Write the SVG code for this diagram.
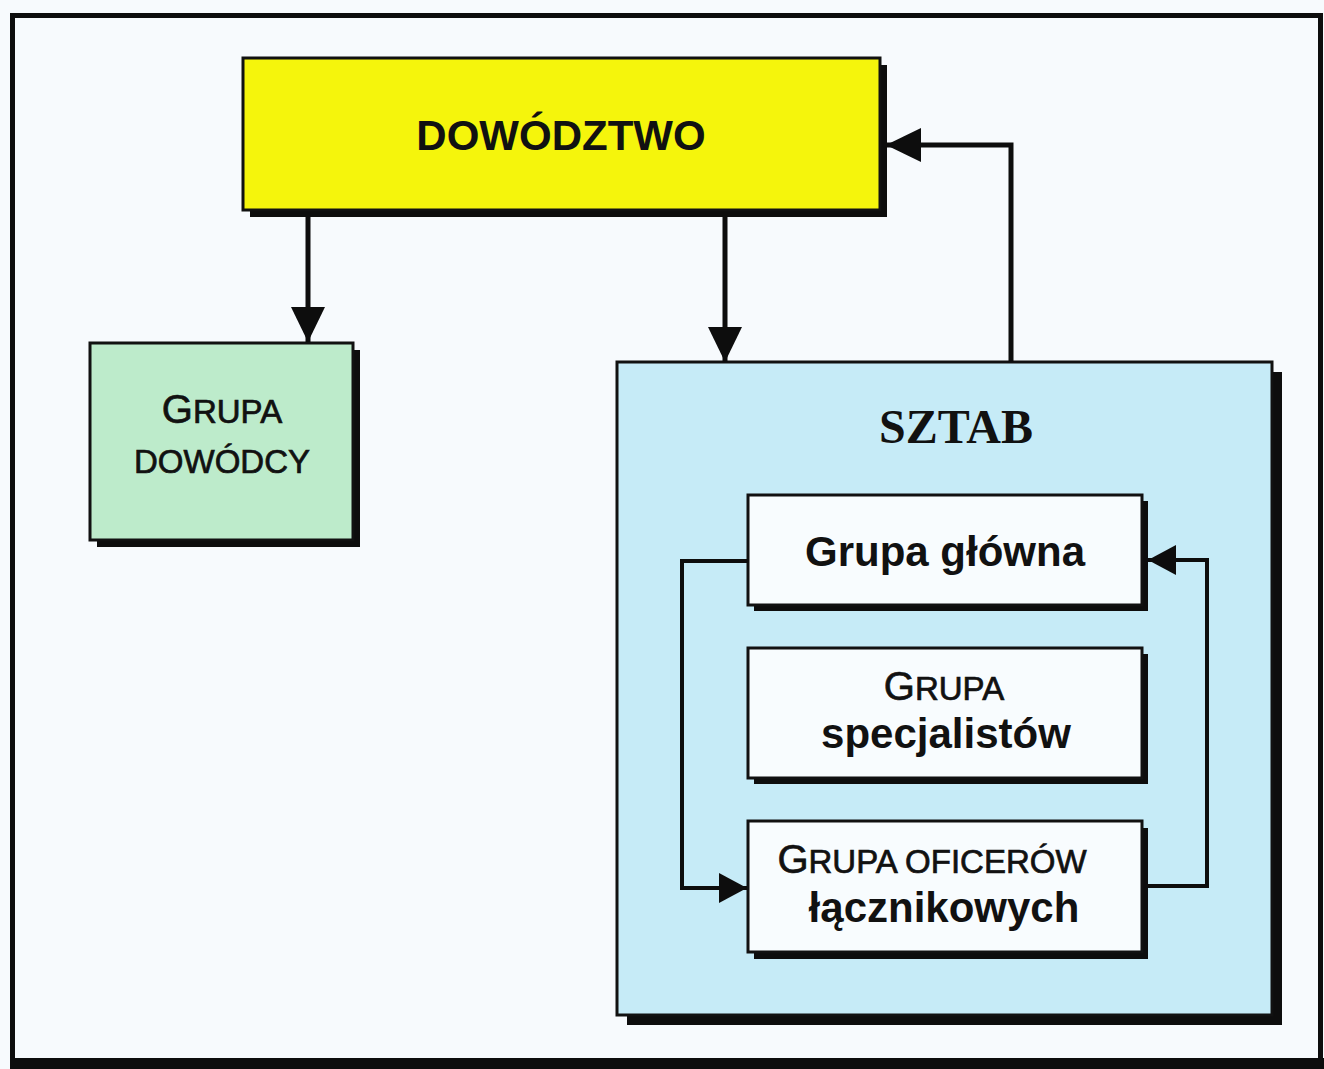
<svg xmlns="http://www.w3.org/2000/svg" width="1324" height="1069" viewBox="0 0 1324 1069">
<style>
.box{stroke:#111;stroke-width:3}
.shadow{fill:#0d0d0d}
.sans{font-family:"Liberation Sans",Arial,sans-serif;fill:#111}
.reg{stroke:#111;stroke-width:0.7}
.serif{font-family:"Liberation Serif","Times New Roman",serif;fill:#111}
.conn{fill:none;stroke:#0d0d0d;stroke-width:5}
.loop{fill:none;stroke:#0d0d0d;stroke-width:4}
</style>
<defs>
<marker id="big" markerUnits="userSpaceOnUse" viewBox="0 0 35 34" refX="35" refY="17" markerWidth="35" markerHeight="34" orient="auto">
<path d="M0,0 L35,17 L0,34 z" fill="#0d0d0d"/>
</marker>
<marker id="small" markerUnits="userSpaceOnUse" viewBox="0 0 28 30" refX="28" refY="15" markerWidth="28" markerHeight="30" orient="auto">
<path d="M0,0 L28,15 L0,30 z" fill="#0d0d0d"/>
</marker>
</defs>
<rect x="0" y="0" width="1324" height="1069" fill="#f7fafd"/>
<g id="frame">
<rect x="12.5" y="15.5" width="1308" height="1046" fill="none" stroke="#0d0d0d" stroke-width="5"/>
<rect x="10" y="1058" width="1314" height="11" fill="#0d0d0d"/>
</g>
<g id="sztab">
<rect class="shadow" x="627" y="372" width="655" height="653"/>
<rect class="box" x="617" y="362" width="655" height="653" fill="#c6ebf7"/>
<text class="serif" x="956" y="443" font-size="48" font-weight="bold" text-anchor="middle">SZTAB</text>
</g>
<g id="dowodztwo">
<rect class="shadow" x="250" y="65" width="637" height="152"/>
<rect class="box" x="243" y="58" width="637" height="152" fill="#f5f50c"/>
<text class="sans" x="561" y="150" font-size="42" font-weight="bold" text-anchor="middle">DOWÓDZTWO</text>
</g>
<g id="grupa-dowodcy">
<rect class="shadow" x="97" y="350" width="263" height="197"/>
<rect class="box" x="90" y="343" width="263" height="197" fill="#bdebcb"/>
<text class="sans reg" x="222" y="423" text-anchor="middle"><tspan font-size="40">G</tspan><tspan font-size="33">RUPA</tspan></text>
<text class="sans reg" x="222" y="473" font-size="33" text-anchor="middle">DOWÓDCY</text>
</g>
<g id="grupa-glowna">
<rect class="shadow" x="754" y="501" width="394" height="110"/>
<rect class="box" x="748" y="495" width="394" height="110" fill="#f8fcfe"/>
<text class="sans" x="945" y="566" font-size="42" font-weight="bold" text-anchor="middle">Grupa główna</text>
</g>
<g id="grupa-specjalistow">
<rect class="shadow" x="754" y="654" width="394" height="130"/>
<rect class="box" x="748" y="648" width="394" height="130" fill="#f8fcfe"/>
<text class="sans reg" x="944" y="700" text-anchor="middle"><tspan font-size="40">G</tspan><tspan font-size="33">RUPA</tspan></text>
<text class="sans" x="946" y="748" font-size="42" font-weight="bold" text-anchor="middle">specjalistów</text>
</g>
<g id="grupa-oficerow">
<rect class="shadow" x="754" y="828" width="394" height="131"/>
<rect class="box" x="748" y="821" width="394" height="131" fill="#f8fcfe"/>
<text class="sans reg" x="932" y="873" text-anchor="middle"><tspan font-size="40">G</tspan><tspan font-size="33">RUPA OFICERÓW</tspan></text>
<text class="sans" x="944" y="922" font-size="42" font-weight="bold" text-anchor="middle">łącznikowych</text>
</g>
<g id="connectors">
<path class="conn" d="M308,217 V342" marker-end="url(#big)"/>
<path class="conn" d="M725,217 V362" marker-end="url(#big)"/>
<path class="conn" d="M1011,362 V145 H886" marker-end="url(#big)"/>
<path class="loop" d="M748,561 H682 V888 H747" marker-end="url(#small)"/>
<path class="loop" d="M1148,886 H1207 V560 H1148" marker-end="url(#small)"/>
</g>
</svg>
